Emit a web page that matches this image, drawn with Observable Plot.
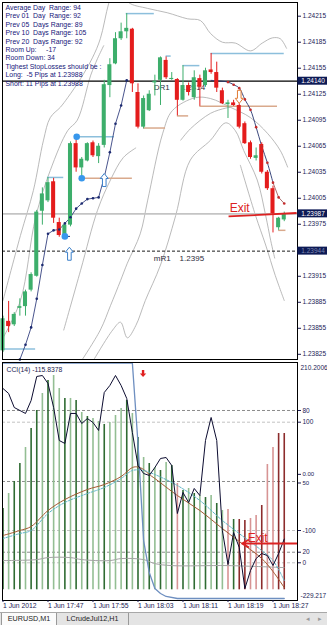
<!DOCTYPE html>
<html><head><meta charset="utf-8">
<script src="https://cdn.jsdelivr.net/npm/d3@7"></script>
<script src="https://cdn.jsdelivr.net/npm/@observablehq/plot@0.6"></script>
<style>
body{margin:0;background:#fff;font-family:"Liberation Sans",Arial,sans-serif;}
#wrap{width:327px;height:625px;position:relative;overflow:hidden;background:#fff;}
#wrap svg{display:block;overflow:visible}
#tabs{position:absolute;left:0;top:612px;width:327px;height:13px;background:#e4e4e4;border-top:1px solid #a8a8a8;box-sizing:border-box;}
.tab{position:absolute;top:0;height:12px;line-height:12px;font-size:7.2px;text-align:center;color:#222;border-right:1px solid #999;box-sizing:border-box;}
.act{background:#fbfbfb;border-left:1px solid #999;}
.nav{position:absolute;top:0;line-height:12px;font-size:7px;color:#999;}
</style></head>
<body><div id="wrap"></div>
<script>
// ---------------- data ----------------
const timeLabels = ["1 Jun 2012","1 Jun 17:47","1 Jun 17:55","1 Jun 18:03","1 Jun 18:11","1 Jun 18:19","1 Jun 18:27"];
const timeTickBars = [0, 8, 16, 24, 32, 40, 48];

const open  = [1.23829,1.23863,1.23859,1.23878,1.23880,1.23899,1.23915,1.23990,1.24002,1.24024,
               1.23977,1.23962,1.23974,1.24068,1.24040,1.24048,1.24069,1.24053,1.24066,1.24135,
               1.24160,1.24189,1.24197,1.24200,1.24127,1.24087,1.24106,1.24138,1.24141,1.24164,
               1.24142,1.24142,1.24118,1.24135,1.24121,1.24143,1.24135,1.24153,1.24150,1.24129,
               1.24113,1.24115,1.24112,1.24091,1.24069,1.24051,1.24067,1.24035,1.24016,1.23971,1.23980];
const high  = [1.23869,1.23886,1.23873,1.23889,1.23899,1.23919,1.23991,1.24017,1.24029,1.24028,
               1.23982,1.23975,1.24070,1.24076,1.24052,1.24069,1.24071,1.24068,1.24141,1.24166,
               1.24196,1.24207,1.24218,1.24201,1.24137,1.24123,1.24129,1.24147,1.24168,1.24168,
               1.24150,1.24143,1.24158,1.24138,1.24152,1.24147,1.24155,1.24172,1.24162,1.24132,
               1.24118,1.24118,1.24114,1.24093,1.24071,1.24063,1.24069,1.24037,1.24019,1.23983,1.23989];
const low   = [1.23827,1.23850,1.23857,1.23869,1.23869,1.23897,1.23914,1.23974,1.24000,1.23976,
               1.23960,1.23960,1.23972,1.24035,1.24028,1.24047,1.24052,1.24045,1.24063,1.24121,
               1.24159,1.24187,1.24189,1.24127,1.24085,1.24085,1.24105,1.24123,1.24112,1.24142,
               1.24141,1.24100,1.24117,1.24123,1.24118,1.24111,1.24133,1.24148,1.24127,1.24113,
               1.24097,1.24111,1.24085,1.24067,1.24050,1.24048,1.24033,1.24014,1.23965,1.23968,1.23978];
const close = [1.23866,1.23857,1.23871,1.23880,1.23897,1.23917,1.23989,1.24010,1.24023,1.23982,
               1.23962,1.23974,1.24068,1.24040,1.24050,1.24068,1.24054,1.24065,1.24136,1.24159,
               1.24189,1.24197,1.24201,1.24137,1.24087,1.24120,1.24125,1.24140,1.24167,1.24144,
               1.24143,1.24118,1.24135,1.24127,1.24144,1.24133,1.24152,1.24150,1.24132,1.24114,
               1.24115,1.24112,1.24087,1.24068,1.24052,1.24054,1.24035,1.24016,1.23987,1.23982,1.23987];

const priceTicks = [1.24215,1.24185,1.24155,1.24125,1.24095,1.24065,1.24035,1.24005,1.23975,1.23915,1.23885,1.23855,1.23825];
const bidPrice = 1.23987;
const dr1Level = 1.24140;
const mr1Level = 1.23944;
const markedPrices = [1.24140, 1.23987, 1.23944];

const infoLines = [
  "Average Day\u00a0 Range: 94",
  "Prev 01\u00a0 Day\u00a0 Range: 92",
  "Prev 05\u00a0 Days Range: 89",
  "Prev 10\u00a0 Days Range: 105",
  "Prev 20\u00a0 Days Range: 92",
  "Room Up:\u00a0\u00a0\u00a0\u00a0 -17",
  "Room Down: 34",
  "Tighest StopLosses should be :",
  "Long:\u00a0 -5 Pips at 1.23988",
  "Short: 11 Pips at 1.23988"
];

// envelope / band lines: [bar, price]
const bandUpper = [[0,1.23887],[3.1,1.23962],[5.4,1.24014],[7.2,1.24072],[8.4,1.24098],[10.2,1.24110],[11.5,1.24121],[13.8,1.24143],[15.9,1.24167],[17.3,1.24189],[18.8,1.24230],[20.0,1.24252],[21.2,1.24246],[22.3,1.24231],[25.7,1.24224],[29.2,1.24219],[32.8,1.24212],[35.1,1.24210],[36.9,1.24195],[39.0,1.24185],[41.3,1.24184],[44.0,1.24175],[46.1,1.24184],[47.9,1.24190],[49.3,1.24189],[50.4,1.24178]];
const bandInner = [[0,1.23844],[3.1,1.23887],[5.8,1.23983],[8.4,1.24037],[11.5,1.24083],[13.2,1.24095],[15.6,1.24147],[16.8,1.24166],[17.9,1.24181]];
const bandLowA  = [[10.8,1.23853],[13.8,1.23922],[16.8,1.23991],[19.1,1.24026],[21.4,1.24052],[23.6,1.24063]];
const bandMid   = [[13.8,1.23816],[17.3,1.23853],[19.1,1.23881],[20.9,1.23910],[22.1,1.23930],[24.4,1.23964],[25.7,1.24002],[28.4,1.24080],[30.1,1.24106],[34.2,1.24121],[36.9,1.24120],[40.4,1.24110],[44.0,1.24098],[47.0,1.24080],[49.3,1.24060],[50.6,1.24041]];
const bandLowB  = [[15.9,1.23816],[19.5,1.23853],[20.9,1.23862],[22.1,1.23844],[23.6,1.23858],[25.3,1.23887],[28.0,1.23928],[30.7,1.23985],[33.3,1.24049],[36.9,1.24072],[39.6,1.24092],[41.3,1.24083],[42.8,1.24060],[45.2,1.24026],[46.7,1.23985],[47.6,1.23956],[48.3,1.23936]];
const bandMidB  = [[31.6,1.24072],[33.3,1.24085],[36.9,1.24103],[39.6,1.24109],[40.4,1.24110]];
const bandLowC  = [[42.2,1.24043],[44.9,1.23985],[46.7,1.23951],[48.4,1.23916],[50.0,1.23887]];

// trailing stop dots
const sarLeftStart = 3;
const sarLeft = [1.23819,1.23836,1.23856,1.23889,1.23928,1.23964,1.23968,1.23969,1.23976,1.23983,1.23993,1.23999,1.24004,1.24005,1.24006,1.24029,1.24058,1.24091,1.24112,1.24141];
const sarRightCurve = [[37,1.24141],[39,1.24140],[40,1.24139],[41,1.24136],[42,1.24132],[43,1.24119],[44,1.24107],[45,1.24087],[46,1.24065],[47,1.24046],[48,1.24023]];
const sarRedStart = 40;
const sarRed = [1.24139,1.24136,1.24132,1.24119,1.24107,1.24087,1.24065,1.24046,1.24023,1.24006,1.23999];

// fractal levels: [fromBar, toBar, price]
const fractalHighs = [[7.9,10.8,1.24029],[21.9,26.9,1.24218],[29.0,29.9,1.24169],[32.0,35.0,1.24158],[37.0,50.0,1.24172],[0,5.8,1.23831],[13.1,19.8,1.24076]];
const fractalLows  = [[25.0,28.9,1.24086],[31.0,33.0,1.24100],[35.0,48.8,1.24111],[14.0,23.0,1.24028],[49.0,50.3,1.23968]];
const swingDots = [[13.1,1.24076],[14.0,1.24028],[11.0,1.23961]];
const swingStub = [[11.0,12.0,1.23961]];
const upArrows = [[11.8,1.23941],[18.0,1.24026]];
const downArrows = [[42.0,1.24122]];
const levelTexts = [["DR1",26.8,1.24133],["1.2414",31.6,1.24133],["mR1",26.8,1.23936],["1.2395",31.4,1.23936]];
const exitMain = {text:"Exit", bar:40.3, price:1.23993, x1:40.1, y1:1.23984, x2:52.2, y2:1.23988};

// ---- CCI window ----
const cciTitle = "CCI(14) -115.8378";
const cciMax = 210.2006, cciMin = -229.217;
const cciVals = [162.2,153.0,127.1,121.6,116.1,140.1,184.4,186.2,171.5,127.1,
                 66.2,60.7,116.1,116.1,97.6,106.8,99.4,84.7,154.8,167.8,
                 186.2,167.8,143.8,81.0,20.0,5.3,1.6,16.3,33.0,34.8,
                 20.0,-68.6,-29.8,-48.3,-22.4,-35.4,66.2,108.7,66.2,-100.0,
                 -162.8,-103.7,-131.4,-207.1,-173.9,-151.7,-142.5,-146.2,-164.6,-142.5,-115.8];
const histVals = [-59.4,-31.7,-9.5,23.7,53.3,88.4,121.6,153.0,177.0,186.2,
                  162.2,143.8,143.8,140.1,117.9,110.5,106.8,101.3,95.8,99.4,
                  112.4,125.3,140.1,116.1,71.7,34.8,23.7,16.3,10.8,25.6,
                  20.0,-13.2,-26.1,-22.4,-31.7,-35.4,-39.1,-35.4,-50.1,-63.1,
                  -61.2,-79.7,-79.7,-81.5,-77.8,-72.3,-53.8,21.9,53.3,79.1,79.1];
const histKind = ["d","l","d","d","l","d","d","l","d","l",
                  "l","d","l","d","l","d","l","l","d","l",
                  "l","l","d","l","d","l","d","l","d","l",
                  "d","s","d","l","d","l","d","l","d","l",
                  "s","d","r","r","s","s","r","s","s","r","r"];
const histBase = -209.5;
const maLine = [[0,-109.2],[3,-100.0],[5,-92.6],[8,-63.1],[11,-42.8],[15,-24.3],[18,-15.1],[21,-0.3],[23,16.3],[24,17.3],[25,12.7],[26,3.4],[27,-4.0],[31,-35.4],[35,-63.1],[39,-96.3],[42,-120.3],[46,-151.7],[48,-175.7],[50,-205.3]];
const signalLine = [[0,-114.8],[3,-105.6],[5,-100.0],[8,-68.6],[11,-48.3],[15,-31.7],[18,-20.6],[21,-4.0],[23,10.8],[25,10.8],[27,3.4],[31,-16.9],[35,-44.6],[39,-81.5],[42,-105.6],[46,-137.0],[48,-155.5],[50,-192.4]];
const flatLine = [[0,-155.5],[6,-153.7],[8,-150.0],[12,-150.0],[14,-153.7],[19,-155.5],[21,-151.8],[25,-153.7],[27,-161.1],[30,-164.8],[40,-164.8],[50,-168.5]];
const blueLine = [[0,209],[23,209],[24,60.7],[25,-118.5],[26,-177.5],[27,-207.1],[28,-216.3],[29,-221.8],[31,-225.5],[50,-225.5]];
const cciLevelsDark = [121.6, -9.5, -140.1];
const cciLevelsLight = [100, -100, -159.6];
const cciAxisLabels = [["80",121.6],["100",100],["-100",-100],["20",-140.1],["0",-159.6]];
const cciZeroLabel = ["0.00", 0];
const cciFiftyLabel = ["50", -9.5];
const cciSignalArrow = [[24.9,189.9]];
const exitCci = {text:"Exit", bar:43.5, value:-113.8, x1:52.2, x2:42.5, y:-124.0};

// ---------------- drawing ----------------
const FONT = "'Liberation Sans', Arial, sans-serif";
const AXIS_COL = "#1b1b55";
const xDomain = [-0.0889, 52.356];
const P = arr => arr.map(([i, v]) => ({i, v}));
const candles = open.map((o, i) => ({i, o, h: high[i], l: low[i], c: close[i]}));
const candleColor = d => d.c >= d.o ? "#3dae6b" : "#e41c1c";

const upSym = {draw(ctx){ctx.moveTo(0,-6.5);ctx.lineTo(4,-1.5);ctx.lineTo(1.8,-1.5);ctx.lineTo(1.8,6.5);ctx.lineTo(-1.8,6.5);ctx.lineTo(-1.8,-1.5);ctx.lineTo(-4,-1.5);ctx.closePath();}};
const downSym = {draw(ctx){ctx.moveTo(0,6.5);ctx.lineTo(4,1.5);ctx.lineTo(1.8,1.5);ctx.lineTo(1.8,-6.5);ctx.lineTo(-1.8,-6.5);ctx.lineTo(-1.8,1.5);ctx.lineTo(-4,1.5);ctx.closePath();}};
const smallDown = {draw(ctx){ctx.moveTo(0,3.5);ctx.lineTo(3.2,0);ctx.lineTo(1.2,0);ctx.lineTo(1.2,-3.5);ctx.lineTo(-1.2,-3.5);ctx.lineTo(-1.2,0);ctx.lineTo(-3.2,0);ctx.closePath();}};

const bands = [bandUpper, bandInner, bandLowA, bandMid, bandLowB, bandMidB, bandLowC];
const pxPerBar = 295 / (xDomain[1] - xDomain[0]);
const boxX1 = xDomain[1] + 0.3 / pxPerBar, boxX2 = xDomain[1] + 31 / pxPerBar, boxXm = xDomain[1] + 15.5 / pxPerBar;
const halfBox = 0.000046;

const mainPlot = Plot.plot({
  width: 327, height: 361,
  marginLeft: 2, marginRight: 30, marginTop: 2, marginBottom: 2,
  style: {fontFamily: FONT, background: "white", overflow: "visible"},
  x: {domain: xDomain, axis: null},
  y: {domain: [1.238190, 1.242308], axis: null},
  marks: [
    ...bands.map(b => Plot.line(P(b), {x: "i", y: "v", stroke: "#a8a8a8", strokeWidth: 0.8, curve: "catmull-rom", clip: true})),
    Plot.ruleY([bidPrice], {stroke: "#c4c4c4", strokeWidth: 1.6}),
    Plot.ruleY([dr1Level], {stroke: "#000", strokeWidth: 1.2}),
    Plot.ruleY([mr1Level], {stroke: "#000", strokeWidth: 0.9, strokeDasharray: "3,2"}),
    Plot.text(levelTexts, {x: d => d[1], y: d => d[2], text: d => d[0], textAnchor: "start", fontSize: 8, fill: "#2b2b3b"}),
    Plot.ruleY(fractalHighs, {x1: d => d[0], x2: d => d[1], y: d => d[2], stroke: "#8cbfdc", strokeWidth: 1.5}),
    Plot.ruleY(fractalLows, {x1: d => d[0], x2: d => d[1], y: d => d[2], stroke: "#d9a98c", strokeWidth: 1.5}),
    Plot.ruleY(swingStub, {x1: d => d[0], x2: d => d[1], y: d => d[2], stroke: "#22307a", strokeWidth: 1}),
    Plot.line(sarLeft.map((v, k) => ({i: k + sarLeftStart, v})), {x: "i", y: "v", stroke: "#1c2a70", strokeWidth: 0.8}),
    Plot.line(P(sarRightCurve), {x: "i", y: "v", stroke: "#26346e", strokeWidth: 0.9, curve: "catmull-rom"}),
    Plot.line(sarRed.map((v, k) => ({i: k + sarRedStart, v})).slice(-3), {x: "i", y: "v", stroke: "#8a3030", strokeWidth: 0.7}),
    Plot.ruleX(candles, {x: "i", y1: "l", y2: "h", stroke: candleColor, strokeWidth: 1}),
    Plot.rect(candles, {x1: d => d.i - 0.36, x2: d => d.i + 0.36, y1: d => Math.min(d.o, d.c), y2: d => Math.max(d.o, d.c, Math.min(d.o, d.c) + 0.000012), fill: candleColor}),
    Plot.dot(sarLeft.map((v, k) => ({i: k + sarLeftStart, v})), {x: "i", y: "v", r: 1.3, fill: "#1c2a70"}),
    Plot.dot(sarRed.map((v, k) => ({i: k + sarRedStart, v})), {x: "i", y: "v", r: 1.3, fill: "#c42a2a"}),
    Plot.dot(swingDots, {x: d => d[0], y: d => d[1], r: 3.3, fill: "#3797ec"}),
    Plot.dot(upArrows, {x: d => d[0], y: d => d[1], symbol: upSym, fill: "white", stroke: "#3b7fc9", strokeWidth: 1}),
    Plot.dot(downArrows, {x: d => d[0], y: d => d[1], symbol: downSym, fill: "white", stroke: "#e07a32", strokeWidth: 1}),
    Plot.text([infoLines.join("\n")], {frameAnchor: "top-left", dx: 3, dy: 1.5, lineAnchor: "top", textAnchor: "start", fontSize: 6.9, lineHeight: 1.22, fill: "#16167a"}),
    Plot.link([exitMain], {x1: "x1", y1: "y1", x2: "x2", y2: "y2", stroke: "#dc2222", strokeWidth: 1.8}),
    Plot.text([exitMain], {x: "bar", y: "price", text: "text", textAnchor: "start", fontSize: 12, fill: "#dc2222"}),
    Plot.frame({stroke: "#000", strokeWidth: 1}),
    Plot.axisY(priceTicks, {anchor: "right", tickSize: 3, tickPadding: 2, fontSize: 6.5, tickFormat: d3.format(".5f"), color: AXIS_COL, label: null}),
    Plot.rect(markedPrices, {x1: () => boxX1, x2: () => boxX2, y1: d => d - halfBox, y2: d => d + halfBox, fill: "#0d1a55"}),
    Plot.text(markedPrices, {x: () => boxXm, y: d => d, text: d3.format(".5f"), fill: (d, k) => k === 2 ? "#7d89b3" : "white", fontSize: 6.5})
  ]
});

const cciData = cciVals.map((v, i) => ({i, v}));
const histData = histVals.map((v, i) => ({i, v, k: histKind[i]}));
const histColors = {d: "#2f6b32", l: "#93be93", r: "#8c2c2c", s: "#d79494"};

const cciPlot = Plot.plot({
  width: 327, height: 251,
  marginLeft: 2, marginRight: 30, marginTop: 1, marginBottom: 12,
  style: {fontFamily: FONT, background: "white", overflow: "visible"},
  x: {domain: xDomain, axis: null},
  y: {domain: [cciMin, cciMax], axis: null},
  marks: [
    Plot.ruleY(cciLevelsDark, {stroke: "#6e6e6e", strokeWidth: 0.8, strokeDasharray: "3,2"}),
    Plot.ruleY(cciLevelsLight, {stroke: "#b4b4b4", strokeWidth: 0.8, strokeDasharray: "3,2"}),
    Plot.ruleX(histData, {x: "i", y1: () => histBase, y2: "v", stroke: d => histColors[d.k], strokeWidth: 1.6}),
    Plot.line(P(flatLine), {x: "i", y: "v", stroke: "#a4a4a4", strokeWidth: 1, curve: "catmull-rom"}),
    Plot.line(P(maLine), {x: "i", y: "v", stroke: "#a45a32", strokeWidth: 1, curve: "catmull-rom"}),
    Plot.line(P(signalLine), {x: "i", y: "v", stroke: "#5cb4c6", strokeWidth: 1, strokeDasharray: "2,1.5", curve: "catmull-rom"}),
    Plot.line(P(blueLine), {x: "i", y: "v", stroke: "#6e8fc0", strokeWidth: 1.3, clip: true}),
    Plot.line(cciData, {x: "i", y: "v", stroke: "#0c0c30", strokeWidth: 1}),
    Plot.dot(cciSignalArrow, {x: d => d[0], y: d => d[1], symbol: smallDown, fill: "#e02020"}),
    Plot.text([cciTitle], {frameAnchor: "top-left", dx: 4, dy: 5, lineAnchor: "top", textAnchor: "start", fontSize: 6.8, fill: "#22224f"}),
    Plot.arrow([exitCci], {x1: "x1", x2: "x2", y1: "y", y2: "y", stroke: "#dc2222", strokeWidth: 1.8, headLength: 6}),
    Plot.text([exitCci], {x: "bar", y: "value", text: "text", textAnchor: "start", fontSize: 12, fill: "#dc2222"}),
    Plot.frame({stroke: "#000", strokeWidth: 1}),
    Plot.axisY(cciAxisLabels.map(d => d[1]), {anchor: "right", tickSize: 3, tickPadding: 2, fontSize: 6.5, color: AXIS_COL, label: null,
      tickFormat: v => cciAxisLabels.find(d => d[1] === v)[0]}),
    Plot.axisY([cciZeroLabel[1]], {anchor: "right", tickSize: 3, tickPadding: 2, fontSize: 6, dy: -2, color: AXIS_COL, label: null,
      tickFormat: () => cciZeroLabel[0]}),
    Plot.axisY([cciFiftyLabel[1]], {anchor: "right", tickSize: 3, tickPadding: 2, fontSize: 6, dy: 1.5, color: AXIS_COL, label: null,
      tickFormat: () => cciFiftyLabel[0]}),
    Plot.text([cciMax], {x: () => xDomain[1], y: d => d, dx: 3, dy: 5, text: d => d.toFixed(4), textAnchor: "start", fontSize: 6.5, fill: AXIS_COL}),
    Plot.text([cciMin], {x: () => xDomain[1], y: d => d, dx: 3, dy: -5, text: d => d.toFixed(3), textAnchor: "start", fontSize: 6.5, fill: AXIS_COL}),
    Plot.axisX(timeTickBars, {anchor: "bottom", tickSize: 2, tickPadding: 1, fontSize: 6.8, color: AXIS_COL, label: null, textAnchor: "start",
      tickFormat: d => timeLabels[timeTickBars.indexOf(d)]})
  ]
});

const wrap = document.getElementById("wrap");
wrap.appendChild(mainPlot);
wrap.appendChild(cciPlot);
const tabs = document.createElement("div");
tabs.id = "tabs";
tabs.innerHTML = '<div class="tab act" style="left:1px;width:56px">EURUSD,M1</div>' +
                 '<div class="tab" style="left:57px;width:72px">LCrudeJul12,H1</div>' +
                 '<div class="nav" style="left:306px">&#9666;</div><div class="nav" style="left:318px">&#9656;</div>';
wrap.appendChild(tabs);
</script></body></html>
